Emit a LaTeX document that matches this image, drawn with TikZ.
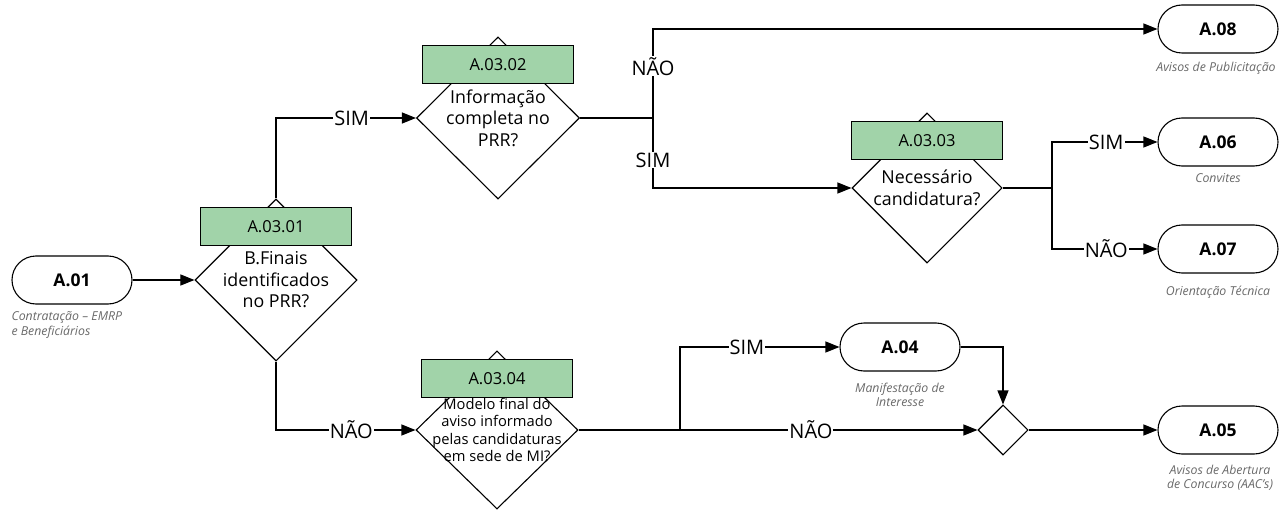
\documentclass[tikz,border=0pt]{standalone}
\usepackage{fontspec}
\setmainfont{Open Sans}
\usetikzlibrary{shapes.geometric,arrows.meta}
\definecolor{verdecx}{RGB}{161,211,169}
\definecolor{legcor}{RGB}{105,105,105}

\begin{document}
\begin{tikzpicture}[x=1pt,y=-1pt,line width=1.1pt,
    seta/.style={-{Triangle[length=14pt,width=11pt]}},
    terminal/.style={draw,fill=white,rounded corners=24pt,minimum width=120pt,minimum height=48pt,inner sep=0pt,font=\bfseries\fontsize{17.5}{20}\selectfont},
    legenda/.style={text=legcor,font=\itshape\fontsize{12.3}{14.5}\selectfont,align=center,inner sep=0pt},
    losango/.style={draw,fill=white,diamond,inner sep=0pt},
    caixa/.style={draw,fill=verdecx,minimum width=151pt,minimum height=38pt,inner sep=0pt,font=\fontsize{16.5}{19}\selectfont},
    pergunta/.style={align=center,inner sep=0pt,font=\fontsize{17.8}{21.5}\selectfont},
    rotulo/.style={fill=white,inner sep=1pt,font=\fontsize{20}{22}\selectfont}]
    \newcommand{\decisao}[7][]{
        \node[losango,minimum width=#4,minimum height=#5] (#2) at (#3) {};
        \node[pergunta,#1] (#2t) at (#2) {#7};
        \node[caixa,yshift=-28pt] (#2c) at (#2.north) {#6};
    }
    \useasboundingbox (0,0) rectangle (1284,513);

    % terminais
    \node[terminal] (a01) at (72,280) {A.01};
    \node[legenda,align=left,anchor=west] (a01l) at (11,325) {Contratação – EMRP\\e Beneficiários};
    \node[terminal] (a08) at (1218,29) {A.08};
    \node[legenda] (a08l) at (1216,68) {Avisos de Publicitação};
    \node[terminal] (a06) at (1218,142) {A.06};
    \node[legenda] (a06l) at (1218,178) {Convites};
    \node[terminal] (a07) at (1218,249) {A.07};
    \node[legenda] (a07l) at (1218,292) {Orientação Técnica};
    \node[terminal] (a04) at (900,347) {A.04};
    \node[legenda] (a04l) at (900,395) {Manifestação de\\Interesse};
    \node[terminal] (a05) at (1218,430) {A.05};
    \node[legenda] (a05l) at (1220,478) {Avisos de Abertura\\de Concurso (AAC's)};

    % decisoes
    \decisao{d1}{276,280}{162pt}{162pt}{A.03.01}{B.Finais\\identificados\\no PRR?}
    \decisao{d2}{498,118}{163pt}{162pt}{A.03.02}{Informação\\completa no\\PRR?}
    \decisao{d3}{927,188}{150pt}{150pt}{A.03.03}{Necessário\\candidatura?}
    \decisao[font=\fontsize{14.7}{17.5}\selectfont]{d4}{497,430}{162pt}{158pt}{A.03.04}{Modelo final do\\aviso informado\\pelas candidaturas\\em sede de MI?}
    \node[losango,minimum width=50pt,minimum height=50pt] (d5) at (1003,430) {};

    \coordinate (j1) at (653,118);
    \coordinate (j2) at (1052,188);
    \coordinate (j3) at (680,430);

    % ligacoes
    \draw[seta] (a01) -- (d1);
    \draw[seta] (d1.north) |- node[rotulo,pos=0.77]{SIM} (d2.west);
    \draw[seta] (d1.south) |- node[rotulo,pos=0.77]{NÃO} (d4.west);
    \draw (d2.east) -- (j1);
    \draw[seta] (j1) |- node[rotulo,pos=0.29]{NÃO} (a08.west);
    \draw[seta] (j1) |- node[rotulo,pos=0.3]{SIM} (d3.west);
    \draw (d3.east) -- (j2);
    \draw[seta] (j2) |- node[rotulo,pos=0.757]{SIM} (a06.west);
    \draw[seta] (j2) |- node[rotulo,pos=0.757]{NÃO} (a07.west);
    \draw (d4.east) -- (j3);
    \draw[seta] (j3) |- node[rotulo,pos=0.71]{SIM} (a04.west);
    \draw[seta] (j3) -- node[rotulo,pos=0.44]{NÃO} (d5.west);
    \draw[seta] (a04.east) -| (d5.north);
    \draw[seta] (d5.east) -- (a05.west);
\end{tikzpicture}
\end{document}
